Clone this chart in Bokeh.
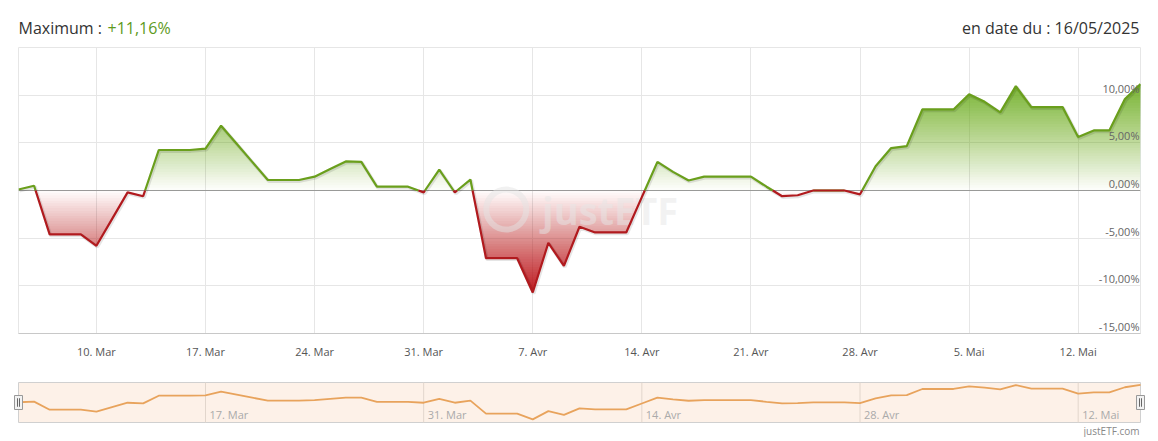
import numpy as np
import pandas as pd
from bokeh.plotting import figure
from bokeh.models import Range1d, FixedTicker, Span, BoxAnnotation
from bokeh.layouts import column, row
from bokeh.core.properties import value
from bokeh.embed import file_html
from bokeh.resources import INLINE

# ---------------- data ----------------
START_DATE = "2025-03-05"
perf = [0.1, 0.5, -4.6, -4.6, -4.6, -5.8, -3.0, -0.2, -0.6, 4.25,
        4.25, 4.25, 4.4, 6.8, 4.9, 3.0, 1.1, 1.1, 1.1, 1.45,
        2.25, 3.05, 3.0, 0.4, 0.4, 0.4, -0.2, 2.2, -0.2, 1.15,
        -7.1, -7.1, -7.1, -10.7, -5.5, -7.9, -3.8, -4.4, -4.4, -4.4,
        -0.7, 3.0, 1.95, 1.05, 1.45, 1.45, 1.45, 1.45, 0.4, -0.6,
        -0.5, 0.0, 0.0, 0.0, -0.4, 2.55, 4.45, 4.65, 8.5, 8.5,
        8.5, 10.1, 9.3, 8.2, 10.95, 8.75, 8.75, 8.75, 5.6, 6.3,
        6.3, 9.6, 11.16]

main_tick_dates = ["2025-03-10", "2025-03-17", "2025-03-24", "2025-03-31", "2025-04-07",
                   "2025-04-14", "2025-04-21", "2025-04-28", "2025-05-05", "2025-05-12"]
main_tick_labels = ["10. Mar", "17. Mar", "24. Mar", "31. Mar", "7. Avr",
                    "14. Avr", "21. Avr", "28. Avr", "5. Mai", "12. Mai"]
nav_tick_dates = ["2025-03-17", "2025-03-31", "2025-04-14", "2025-04-28", "2025-05-12"]
nav_tick_labels = ["17. Mar", "31. Mar", "14. Avr", "28. Avr", "12. Mai"]
y_ticks = [-15, -10, -5, 0, 5, 10, 15]
y_tick_labels = ["-15,00%", "-10,00%", "-5,00%", "0,00%", "5,00%", "10,00%"]
nav_lo, nav_hi = -12.7, 12.6

# ---------------- derived ----------------
dates = pd.date_range(START_DATE, periods=len(perf), freq="D")
x = np.asarray((dates - dates[0]).days, dtype=float)
v = np.asarray(perf, dtype=float)
main_ticks = [float((pd.Timestamp(d) - dates[0]).days) for d in main_tick_dates]
nav_ticks = [float((pd.Timestamp(d) - dates[0]).days) for d in nav_tick_dates]

FONT = value("Open Sans")
GREEN_LINE = "#6a9f1c"
GREEN_FILL = "#76b52a"
RED_LINE = "#b11a1e"
RED_FILL = "#c0171c"
W = 1158
FRAME_L, FRAME_R = 18, 1140
NAV_PAD = 6

# ---------------- header ----------------
hdr = figure(width=W, height=38, x_range=Range1d(FRAME_L, FRAME_R), y_range=Range1d(0, 38),
             x_axis_location=None, y_axis_location=None, toolbar_location=None,
             output_backend="svg", min_border_left=FRAME_L, min_border_right=W - FRAME_R,
             min_border_top=0, min_border_bottom=0, outline_line_color=None)
hdr.grid.visible = False
max_txt = "+" + f"{v.max():.2f}".replace(".", ",") + "%"
date_txt = "en date du : " + dates[-1].strftime("%d/%m/%Y")
hdr.text(x=[18], y=[10.7], text=["Maximum :"], text_font=FONT, text_font_size="16px",
         text_color="#333333", text_baseline="alphabetic", text_align="left")
hdr.text(x=[107], y=[10.7], text=[max_txt], text_font=FONT, text_font_size="16px",
         text_color="#5e9a1c", text_baseline="alphabetic", text_align="left")
hdr.text(x=[1139], y=[10.7], text=[date_txt], text_font=FONT, text_font_size="16px",
         text_color="#333333", text_baseline="alphabetic", text_align="right")

# ---------------- main chart ----------------
xr = Range1d(x[0], x[-1])
p = figure(width=W, height=327, x_range=xr, y_range=Range1d(-15, 15),
           y_axis_location=None, toolbar_location=None, output_backend="svg",
           min_border_left=FRAME_L, min_border_right=W - FRAME_R, min_border_top=9,
           min_border_bottom=32, outline_line_color="#e6e6e6",
           background_fill_color="white", border_fill_color="white")
p.xaxis.ticker = FixedTicker(ticks=main_ticks)
p.xaxis.major_label_overrides = {t: l for t, l in zip(main_ticks, main_tick_labels)}
p.xaxis.major_tick_out = 0
p.xaxis.major_tick_in = 0
p.xaxis.minor_tick_line_color = None
p.xaxis.axis_line_color = "#c8c8c8"
p.xaxis.major_label_standoff = 10
p.xaxis.major_label_text_font = "Open Sans"
p.xaxis.major_label_text_font_size = "11px"
p.xaxis.major_label_text_color = "#555555"
p.xgrid.ticker = FixedTicker(ticks=main_ticks)
p.ygrid.ticker = FixedTicker(ticks=y_ticks)
p.grid.grid_line_color = "#e6e6e6"

# gradient fills built from the series (layered transparency)
xd = np.linspace(x[0], x[-1], int((x[-1] - x[0]) * 20) + 1)
vd = np.interp(xd, x, v)
N = 40


def gradient(sign, extreme, color, top_opacity):
    edges = np.linspace(0, abs(extreme), N + 1)[:-1]
    prev = 0.0
    for i, a in enumerate(edges):
        target = top_opacity * (i + 1) / N
        alpha = 1 - (1 - target) / (1 - prev)
        prev = target
        if sign > 0:
            y1 = np.full_like(xd, a)
            y2 = np.maximum(vd, a)
        else:
            y1 = np.full_like(xd, -a)
            y2 = np.minimum(vd, -a)
        p.varea(x=xd, y1=y1, y2=y2, fill_color=color, fill_alpha=alpha)


gradient(1, v.max(), GREEN_FILL, 0.92)
gradient(-1, v.min(), RED_FILL, 0.95)

p.add_layout(Span(location=0, dimension="width", line_color="#9a9a9a", line_width=1, level="underlay"))

# watermark
p.scatter(x=[31.3], y=[-2.0], size=40, marker="circle", fill_color=None,
          line_color="#e4e4e4", line_width=6, line_alpha=0.5)
p.text(x=[33.6], y=[-2.0], text=["justETF"], text_font=FONT, text_font_size="38px",
       text_font_style="bold", text_color="#e6e6e6", text_alpha=0.5,
       text_baseline="middle", text_align="left")

# line split into positive / negative zones
xa, va = [x[0]], [v[0]]
for i in range(len(x) - 1):
    x0, x1, v0, v1 = x[i], x[i + 1], v[i], v[i + 1]
    if v0 * v1 < 0:
        t = v0 / (v0 - v1)
        xa.append(x0 + t * (x1 - x0))
        va.append(0.0)
    xa.append(x1)
    va.append(v1)
xa = np.array(xa)
va = np.array(va)
p.line(x=xa + 0.06, y=va - 0.12, line_color="black", line_alpha=0.10, line_width=3.5)
p.line(x=xa, y=np.where(va >= 0, va, np.nan), line_color=GREEN_LINE, line_width=2.2)
p.line(x=xa, y=np.where(va <= 0, va, np.nan), line_color=RED_LINE, line_width=2.2)

# y labels inside the plot on the right
p.text(x=[x[-1]] * len(y_tick_labels), y=y_ticks[:len(y_tick_labels)], text=y_tick_labels,
       text_font=FONT, text_font_size="11px", text_color="#666666",
       text_align="right", text_baseline="middle", x_offset=-1, y_offset=-7)

# ---------------- navigator ----------------
ppd = (FRAME_R - FRAME_L) / (x[-1] - x[0])
upp = (nav_hi - nav_lo) / 40
nav = figure(width=W, height=72,
             x_range=Range1d(x[0] - NAV_PAD / ppd, x[-1] + NAV_PAD / ppd),
             y_range=Range1d(nav_lo - 15 * upp, nav_hi + 1 * upp),
             x_axis_location=None, y_axis_location=None, toolbar_location=None,
             output_backend="svg", min_border_left=FRAME_L - NAV_PAD,
             min_border_right=W - FRAME_R - NAV_PAD,
             min_border_top=16, min_border_bottom=0, outline_line_color=None,
             background_fill_color="white", border_fill_color="white")
nav.grid.visible = False
nav.add_layout(BoxAnnotation(left=x[0], right=x[-1], bottom=nav_lo, top=nav_hi,
                             fill_color="#fdf1e8", fill_alpha=1.0, line_color="#d0d0d0",
                             line_alpha=1.0, line_width=1, level="underlay"))
nav.segment(x0=nav_ticks, x1=nav_ticks, y0=[nav_lo] * len(nav_ticks), y1=[nav_hi] * len(nav_ticks),
            line_color="#e2d6cc", line_width=1)
nav.text(x=nav_ticks, y=[nav_lo] * len(nav_ticks), text=nav_tick_labels, text_font=FONT,
         text_font_size="11px", text_color="#aaaaaa", text_align="left",
         text_baseline="middle", x_offset=4, y_offset=-8)
nav.line(x=x, y=v, line_color="#e8a35c", line_width=1.8)
mid = (nav_lo + nav_hi) / 2
for hxc in (x[0], x[-1]):
    nav.add_layout(BoxAnnotation(left=hxc - 4 / ppd, right=hxc + 4 / ppd,
                                 bottom=mid - 7 * upp, top=mid + 7 * upp,
                                 fill_color="#f2f2f2", fill_alpha=1.0, line_color="#999999",
                                 line_alpha=1.0, line_width=1))
    for g in (hxc - 1 / ppd, hxc + 1 / ppd):
        nav.add_layout(BoxAnnotation(left=g, right=g, bottom=mid - 4 * upp, top=mid + 4 * upp,
                                     fill_alpha=0.0, line_color="#666666", line_alpha=1.0,
                                     line_width=1))
nav.text(x=[x[-1]], y=[nav_lo], text=["justETF.com"], text_font=FONT, text_font_size="10px",
         text_color="#888888", text_align="right", text_baseline="middle", x_offset=-1, y_offset=8)

layout = column(hdr, p, row(nav), spacing=0)
open("out.html", "w").write(file_html(layout, INLINE))
